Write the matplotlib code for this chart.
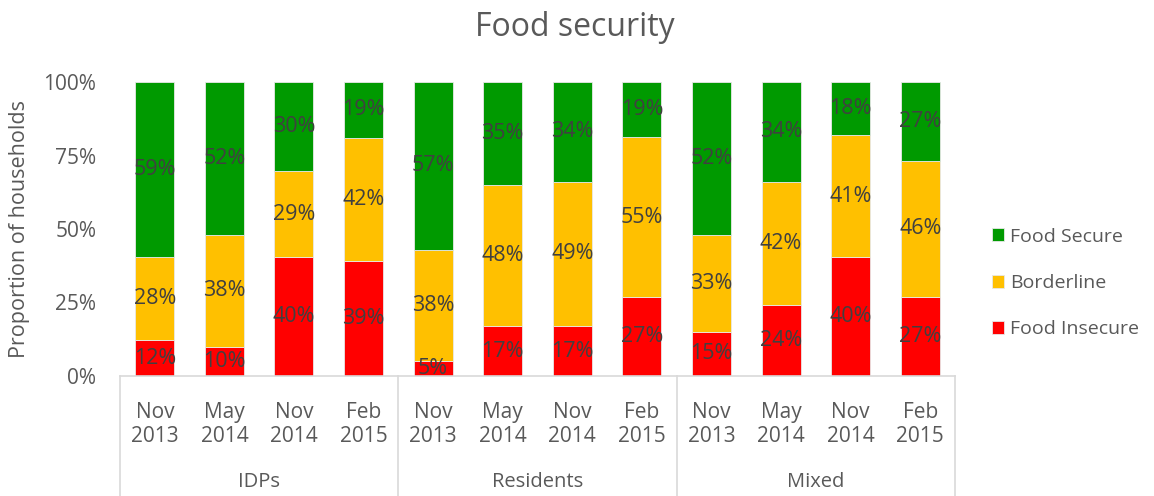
import matplotlib
matplotlib.use("Agg")
import matplotlib.pyplot as plt
import matplotlib.transforms as mtransforms
import numpy as np

plt.rcParams['font.family'] = ['Open Sans', 'DejaVu Sans']

groups = ["IDPs", "Residents", "Mixed"]
periods = ["Nov\n2013", "May\n2014", "Nov\n2014", "Feb\n2015"]
series = ["Food Insecure", "Borderline", "Food Secure"]
food_insecure = [12, 10, 40, 39, 5, 17, 17, 27, 15, 24, 40, 27]
borderline = [28, 38, 29, 42, 38, 48, 49, 55, 33, 42, 41, 46]
food_secure = [59, 52, 30, 19, 57, 35, 34, 19, 52, 34, 18, 27]
colors = ["#FF0000", "#FFC000", "#009A00"]

vals = np.array([food_insecure, borderline, food_secure], dtype=float)
fracs = vals / vals.sum(axis=0)

fig = plt.figure(figsize=(11.54, 4.96), dpi=100)
ax = fig.add_axes([120/1154, 120/496, 835/1154, 294/496])

n = vals.shape[1]
x = np.arange(n)
bottom = np.zeros(n)
handles = []
for i, name in enumerate(series):
    h = ax.bar(x, fracs[i], 0.56, bottom=bottom, color=colors[i],
               edgecolor="#E8E8E8", linewidth=0.6, label=name)
    handles.append(h)
    for j in range(n):
        ax.text(x[j], bottom[j] + fracs[i][j] / 2, f"{int(vals[i][j])}%",
                ha="center", va="center", fontsize=15.5, color="#404040")
    bottom += fracs[i]

ax.set_xlim(-0.5, n - 0.5)
ax.set_ylim(0, 1)
ax.set_yticks([0, 0.25, 0.5, 0.75, 1.0])
ax.set_yticklabels(["0%", "25%", "50%", "75%", "100%"])
ax.tick_params(axis="y", length=0, labelsize=15, colors="#595959", pad=17)
ax.set_xticks([])
for s in ["top", "right", "left"]:
    ax.spines[s].set_visible(False)
ax.spines["bottom"].set_color("#D9D9D9")
ax.spines["bottom"].set_linewidth(1.2)

ax.set_ylabel("Proportion of households", fontsize=15.5, color="#595959", labelpad=10)

trans = mtransforms.blended_transform_factory(ax.transData, ax.transAxes)
ybot = -120/294
for j in range(n):
    ax.text(x[j], -0.165, periods[j % 4], transform=trans, ha="center", va="center",
            fontsize=15, color="#595959", linespacing=1.15)
for g, name in enumerate(groups):
    ax.text(g * 4 + 1.5, -0.36, name, transform=trans, ha="center", va="center",
            fontsize=14.5, color="#595959")
for b in [-0.5, 3.5, 7.5, 11.5]:
    ax.plot([b, b], [0, ybot], transform=trans, color="#D9D9D9", lw=1.2, clip_on=False)

fig.text(575/1154, 1 - 28/496, "Food security", ha="center", va="center",
         fontsize=23, color="#595959")

leg = fig.legend(handles[::-1], series[::-1], loc="center left",
                 bbox_to_anchor=(984/1154, 1 - 283/496), frameon=False,
                 fontsize=14, labelcolor="#595959", handlelength=0.65, handleheight=0.65,
                 handletextpad=0.3, labelspacing=1.45, borderaxespad=0)

fig.savefig("out.png", dpi=100)
